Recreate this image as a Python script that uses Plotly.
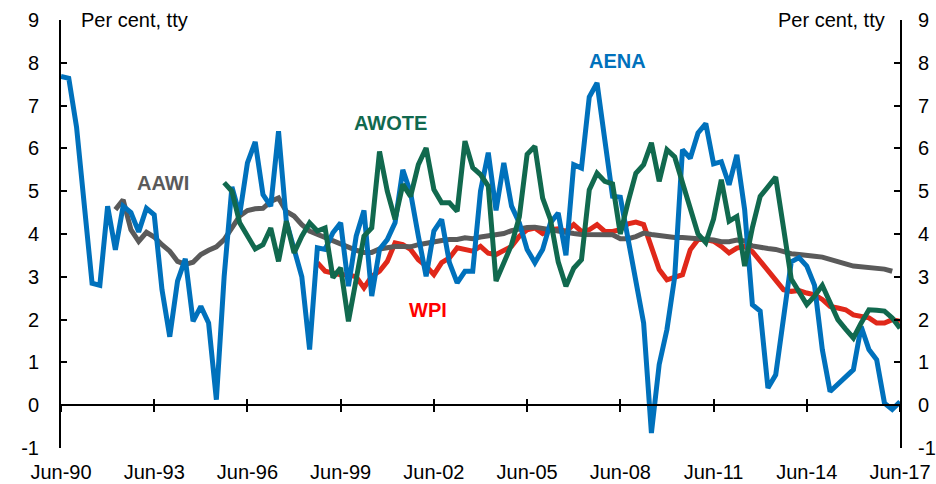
import plotly.graph_objects as go

# Quarterly categories Jun-90 .. Jun-17
months = ["Mar", "Jun", "Sep", "Dec"]
quarters = []
for yr in range(1990, 2018):
    for m in months:
        if (yr == 1990 and m == "Mar") or (yr == 2017 and m in ("Sep", "Dec")):
            continue
        quarters.append(f"{m}-{str(yr)[2:]}")

tick_labels = ["Jun-90", "Jun-93", "Jun-96", "Jun-99", "Jun-02", "Jun-05",
               "Jun-08", "Jun-11", "Jun-14", "Jun-17"]
y_ticks = [-1, 0, 1, 2, 3, 4, 5, 6, 7, 8, 9]
y_tick_text = ["-1", "0", "1", "2", "3", "4", "5", "6", "7", "8", "9"]

aena = [7.68, 7.64, 6.5, 4.7, 2.85, 2.8, 4.65, 3.63, 4.65, 4.5,
        4.05, 4.6, 4.45, 2.7, 1.6, 2.9, 3.42, 1.96, 2.31, 1.92,
        0.13, 3.0, 5.1, 4.45, 5.66, 6.15, 4.92, 4.65, 6.4, 4.3,
        3.64, 3.0, 1.3, 3.68, 3.64, 4.03, 4.26, 2.78, 3.95, 4.55,
        2.55, 3.64, 3.87, 4.26, 5.5, 4.96, 3.95, 3.01, 4.07, 4.34,
        3.33, 2.86, 3.13, 3.13, 5.0, 5.9, 4.55, 5.66, 4.65, 4.26,
        3.64, 3.33, 3.64, 4.26, 4.49, 3.5, 5.62, 5.54, 7.2, 7.53,
        6.2, 4.88, 4.86, 3.87, 2.93, 1.92, -0.65, 0.95, 1.77, 3.0,
        5.97, 5.77, 6.36, 6.58, 5.64, 5.69, 5.15, 5.85, 4.57, 2.35,
        2.2, 0.4, 0.71, 2.0, 3.35, 3.45, 3.25, 2.8, 1.3, 0.32,
        0.48, 0.67, 0.83, 1.84, 1.3, 1.06, 0.05, -0.1, 0.08]

awote_start = 21
awote = [5.2, 5.0, 4.26, 3.95, 3.65, 3.75, 4.14, 3.36, 4.3,
         3.56, 3.95, 4.26, 4.07, 4.14, 2.98, 3.21, 1.96, 2.94, 3.95,
         4.14, 5.93, 5.0, 4.34, 5.16, 4.88, 5.62, 6.01, 5.04, 4.73,
         4.73, 4.53, 6.17, 5.55, 5.39, 5.12, 2.9, 3.3, 3.75, 4.4,
         5.86, 6.05, 4.84, 4.34, 3.35, 2.78, 3.2, 3.4, 5.03, 5.42,
         5.23, 5.17, 4.0, 4.75, 5.42, 5.62, 6.13, 5.23, 5.97, 5.8,
         5.19, 4.57, 4.0, 3.8, 4.35, 5.27, 4.3, 4.41, 3.25, 4.15,
         4.88, 5.1, 5.33, 4.15, 2.95, 2.65, 2.35, 2.55, 2.8, 2.4,
         2.0, 1.78, 1.57, 1.92, 2.23, 2.22, 2.2, 2.04, 1.8]

aawi_start = 7
aawi = [4.57, 4.8, 4.1, 3.83, 4.04, 3.93, 3.75, 3.6, 3.36,
        3.29, 3.34, 3.52, 3.62, 3.7, 3.87, 4.14, 4.42, 4.55, 4.59,
        4.6, 4.76, 4.84, 4.53, 4.42, 4.22, 4.07, 3.99, 3.91, 3.83,
        3.75, 3.68, 3.62, 3.57, 3.57, 3.65, 3.68, 3.71, 3.71, 3.7,
        3.75, 3.79, 3.82, 3.85, 3.87, 3.87, 3.91, 3.89, 3.93, 3.96,
        4.0, 4.01, 4.08, 4.12, 4.15, 4.16, 4.14, 4.1, 4.07, 4.03,
        4.01, 3.99, 3.99, 3.98, 3.98, 3.98, 3.89, 3.89, 3.94, 4.02,
        3.99, 3.96, 3.93, 3.92, 3.92, 3.91, 3.9, 3.88, 3.86, 3.82,
        3.82, 3.86, 3.84, 3.72, 3.68, 3.66, 3.64, 3.58, 3.54, 3.52,
        3.49, 3.48, 3.46, 3.4, 3.33, 3.3, 3.25, 3.23, 3.23, 3.2,
        3.18, 3.13]

wpi_start = 33
wpi = [3.33, 3.13, 3.09, 3.05, 3.05, 3.0, 2.74, 3.01, 3.13,
       3.36, 3.79, 3.75, 3.64, 3.4, 3.25, 3.05, 3.33, 3.44, 3.68,
       3.64, 3.6, 3.71, 3.55, 3.52, 3.6, 3.71, 3.95, 4.1, 4.14,
       4.01, 4.1, 4.12, 4.06, 4.22, 4.06, 4.1, 4.22, 4.06, 4.06,
       4.1, 4.24, 4.28, 4.22, 3.71, 3.17, 2.93, 2.99, 3.05, 3.63,
       3.87, 3.87, 3.83, 3.71, 3.56, 3.67, 3.71, 3.59, 3.36, 3.13,
       2.89, 2.7, 2.66, 2.68, 2.62, 2.58, 2.47, 2.31, 2.27, 2.23,
       2.11, 2.08, 2.04, 1.92, 1.92, 2.0, 1.96]

BLUE = "#0071BC"
GREEN = "#11694E"
RED = "#E0281A"
GRAY = "#5A5A5A"
FONT = "Liberation Sans, Arial, sans-serif"
LW = 5

fig = go.Figure()
fig.add_trace(go.Scatter(x=quarters[wpi_start:wpi_start + len(wpi)], y=wpi,
                         mode="lines", line=dict(color=RED, width=LW), name="WPI"))
fig.add_trace(go.Scatter(x=quarters[aawi_start:aawi_start + len(aawi)], y=aawi,
                         mode="lines", line=dict(color=GRAY, width=LW), name="AAWI"))
fig.add_trace(go.Scatter(x=quarters[:len(aena)], y=aena,
                         mode="lines", line=dict(color=BLUE, width=LW), name="AENA"))
fig.add_trace(go.Scatter(x=quarters[awote_start:awote_start + len(awote)], y=awote,
                         mode="lines", line=dict(color=GREEN, width=LW), name="AWOTE"))
# helper (empty) traces so the overlay axes are drawn
fig.add_trace(go.Scatter(x=[], y=[], xaxis="x2", yaxis="y", showlegend=False))
fig.add_trace(go.Scatter(x=[], y=[], xaxis="x3", yaxis="y", showlegend=False))
fig.add_trace(go.Scatter(x=[], y=[], xaxis="x", yaxis="y2", showlegend=False))

n = len(quarters) - 1
tick_idx = [quarters.index(t) for t in tick_labels]

fig.update_layout(
    width=936, height=484,
    margin=dict(l=61, r=36, t=20, b=36),
    paper_bgcolor="white", plot_bgcolor="white",
    showlegend=False,
    font=dict(family=FONT, size=20, color="black"),
    xaxis=dict(type="category", categoryorder="array", categoryarray=quarters,
               range=[0, n], tickmode="array", tickvals=tick_labels,
               ticktext=tick_labels, showgrid=False, zeroline=False,
               showline=False, ticks="outside", ticklen=6, automargin=False,
               tickcolor="rgba(0,0,0,0)", tickfont=dict(size=20)),
    xaxis2=dict(overlaying="x", anchor="free", position=0.1, range=[0, n],
                tickmode="array", tickvals=tick_idx, showticklabels=False,
                showgrid=False, zeroline=False, showline=True, linecolor="black",
                linewidth=2, ticks="outside", ticklen=6, tickwidth=2,
                tickcolor="black", automargin=False),
    xaxis3=dict(overlaying="x", anchor="free", position=0.1, range=[0, n],
                tickmode="array", tickvals=tick_idx, showticklabels=False,
                showgrid=False, zeroline=False, showline=False,
                ticks="inside", ticklen=6, tickwidth=2, tickcolor="black",
                automargin=False),
    yaxis=dict(range=[-1, 9], tickmode="array", tickvals=y_ticks,
               ticktext=y_tick_text,
               showgrid=False, zeroline=False, showline=True, linecolor="black",
               linewidth=2, ticks="inside", ticklen=6, tickwidth=2,
               tickcolor="black", ticklabelstandoff=16, automargin=False,
               tickfont=dict(size=20)),
    yaxis2=dict(overlaying="y", side="right", range=[-1, 9], tickmode="array",
                tickvals=y_ticks, ticktext=y_tick_text, showgrid=False,
                zeroline=False, showline=True,
                linecolor="black", linewidth=2, ticks="inside", ticklen=6,
                tickwidth=2, tickcolor="black", ticklabelstandoff=12,
                automargin=False, tickfont=dict(size=20)),
)

labels = [
    ("AENA", BLUE, 0.663, 0.905),
    ("AWOTE", GREEN, 0.393, 0.759),
    ("AAWI", GRAY, 0.121, 0.619),
    ("WPI", "#FF0000", 0.437, 0.322),
]
for txt, col, xp, yp in labels:
    fig.add_annotation(text=f"<b>{txt}</b>", x=xp, y=yp, xref="paper", yref="paper",
                       showarrow=False, font=dict(family=FONT, size=20, color=col),
                       xanchor="center", yanchor="middle")

fig.add_annotation(text="Per cent, tty", x=0.021, y=1.0, xref="paper", yref="paper",
                   showarrow=False, xanchor="left", yanchor="middle",
                   font=dict(family=FONT, size=20, color="black"))
fig.add_annotation(text="Per cent, tty", x=0.984, y=1.0, xref="paper", yref="paper",
                   showarrow=False, xanchor="right", yanchor="middle",
                   font=dict(family=FONT, size=20, color="black"))

fig.write_html(
    "out.html",
    config={"displayModeBar": False},
    post_script="document.body.style.margin='0px';document.body.style.overflow='hidden';",
)
